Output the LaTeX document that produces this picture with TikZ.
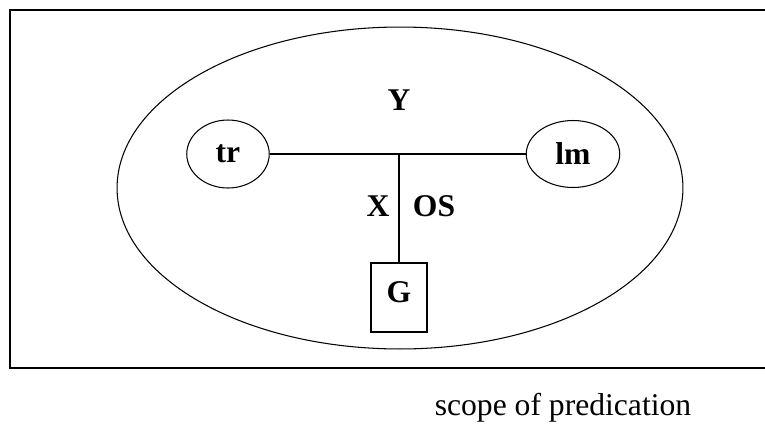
\documentclass[tikz,border=0pt]{standalone}
\usepackage{fontspec}
\setmainfont{Liberation Serif}
\usetikzlibrary{shapes.geometric}

\newcommand{\diafont}{\fontsize{18}{21}\selectfont}
\tikzset{
  role/.style={draw, ellipse, line width=0.6pt, inner sep=0pt, font=\diafont\bfseries},
  lbl/.style={anchor=base, inner sep=0pt, font=\diafont\bfseries}
}

\begin{document}
\begin{tikzpicture}[x=0.02cm, y=-0.02cm, font=\diafont]
  \useasboundingbox (0,0) rectangle (765,430);
  % frame, open on the right
  \draw[line width=0.9pt] (765,10) -- (10,10) -- (10,368) -- (765,368);
  % scope of predication
  \node[draw, ellipse, line width=0.6pt, minimum width=11.32cm, minimum height=6.44cm] (scope) at (400,188) {};
  \node[role, minimum width=1.65cm, minimum height=1.36cm] (tr) at (228,154) {tr};
  \node[role, minimum width=1.87cm, minimum height=1.34cm] (lm) at (573,154) {lm};
  \node[draw, line width=0.6pt, inner sep=0pt, font=\diafont\bfseries, text depth=0.2cm,
        minimum width=1.12cm, minimum height=1.38cm] (G) at (399,297.5) {G};
  \draw[line width=0.6pt] (tr.east) -- (lm.west);
  \draw[line width=0.6pt] (tr.east -| G.north) -- (G.north);
  % labels
  \node[lbl] (Y) at (399,110.7) {Y};
  \node[lbl] (X) at (378,216.7) {X};
  \node[lbl] (OS) at (434,216.7) {OS};
  \node[anchor=base, inner sep=0pt] (cap) at (563,415) {scope of predication};
\end{tikzpicture}
\end{document}
